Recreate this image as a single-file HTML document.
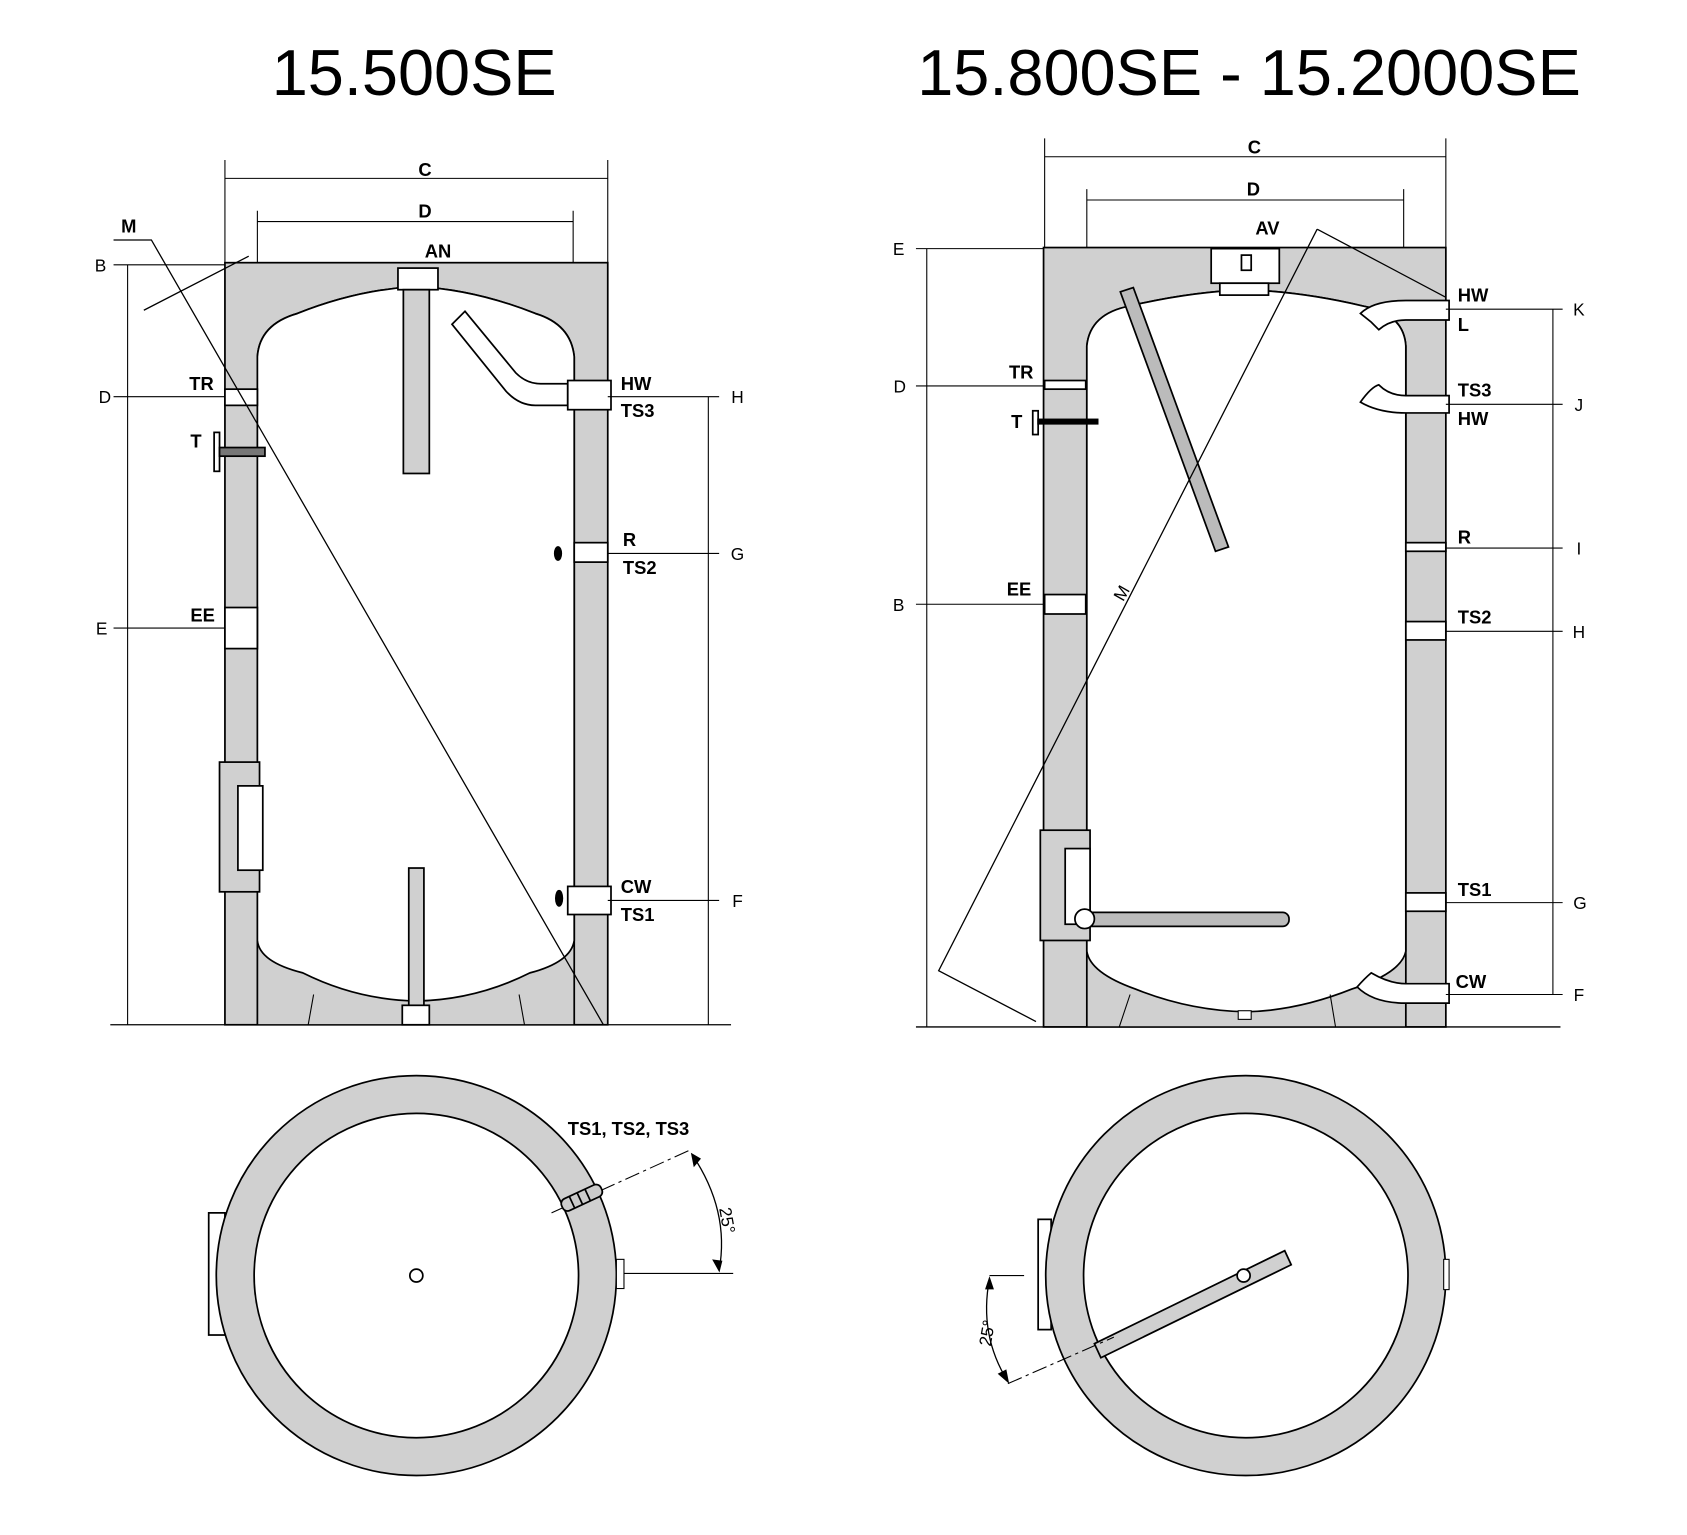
<!DOCTYPE html>
<html><head><style>html,body{margin:0;padding:0;background:#fff}svg{display:block}</style></head>
<body>
<svg width="1687" height="1535" viewBox="0 0 1560 1420" preserveAspectRatio="none" xmlns="http://www.w3.org/2000/svg" font-family="Liberation Sans, sans-serif">
<rect width="1560" height="1420" fill="#fff"/>
<text x="383" y="88" font-size="60" text-anchor="middle">15.500SE</text>
<text x="1155" y="88" font-size="60" text-anchor="middle">15.800SE - 15.2000SE</text>

<g stroke="#000" stroke-width="1.6" fill="none">
<!-- LEFT TANK -->
<rect x="208" y="243" width="354" height="705" fill="#d0d0d0"/>
<path d="M238,948 V330 Q240,300 275,290 Q330,268 385,265 Q440,268 495,290 Q528,300 531,330 V948" fill="#d0d0d0"/>
<path d="M238,330 Q240,300 275,290 Q330,268 385,265 Q440,268 495,290 Q528,300 531,330 V870 Q528,890 490,900 Q440,925 385,926 Q330,925 280,900 Q240,890 238,870 Z" fill="#fff"/>
<path d="M290,920 L285,948 M480,920 L485,948" stroke-width="1"/>
<!-- AN -->
<rect x="368" y="248" width="37" height="20" fill="#fff"/>
<rect x="373" y="268" width="24" height="170" fill="#d0d0d0"/>
<rect x="378" y="803" width="14" height="130" fill="#d0d0d0"/>
<rect x="372" y="930" width="25" height="18" fill="#fff"/>
<!-- HW pipe -->
<path d="M418,300 L430,288 L477,345 Q487,355 500,355 L525,355 L525,375 L495,375 Q480,375 468,362 Z" fill="#fff"/>
<rect x="525" y="352" width="40" height="27" fill="#fff"/>
<rect x="531" y="502" width="31" height="18" fill="#fff"/>
<ellipse cx="516" cy="512" rx="3" ry="6" fill="#000"/>
<rect x="525" y="820" width="40" height="26" fill="#fff"/>
<ellipse cx="517" cy="831" rx="3" ry="7" fill="#000"/>
<!-- left side connections -->
<rect x="208" y="360" width="30" height="15" fill="#fff"/>
<rect x="208" y="562" width="30" height="38" fill="#fff"/>
<rect x="198" y="400" width="5" height="36" fill="#fff"/>
<rect x="203" y="414" width="42" height="8" fill="#777"/>
<rect x="203" y="705" width="37" height="120" fill="#d0d0d0"/>
<rect x="220" y="727" width="23" height="78" fill="#fff"/>
<!-- dims left -->
<path d="M208,148 V243 M562,148 V243 M238,195 V243 M530,195 V243" stroke-width="1"/>
<path d="M208,165 H562 M238,205 H530" stroke-width="1"/>
<path d="M102,948 H676" stroke-width="1.2"/>
<path d="M118,245 V948 M105,245 H208 M105,367 H208 M105,581 H208" stroke-width="1"/>
<path d="M655,367 V948 M562,367 H665 M562,512 H665 M562,833 H665" stroke-width="1"/>
<path d="M105,222 H140 L558,948 M133,287 L230,237" stroke-width="1.2"/>

<!-- RIGHT TANK -->
<rect x="965" y="229" width="372" height="721" fill="#d0d0d0"/>
<path d="M1005,950 V320 Q1008,290 1045,283 Q1100,270 1152,268 Q1205,270 1260,283 Q1298,290 1300,320 V950" fill="#d0d0d0"/>
<path d="M1005,320 Q1008,290 1045,283 Q1100,270 1152,268 Q1205,270 1260,283 Q1298,290 1300,320 V880 Q1296,900 1250,915 Q1200,935 1152,936 Q1100,935 1050,915 Q1008,900 1005,880 Z" fill="#fff"/>
<path d="M1045,920 L1035,950 M1230,920 L1235,950" stroke-width="1"/>
<rect x="1145" y="935" width="12" height="8" fill="#fff" stroke-width="1"/>
<!-- AV fitting -->
<rect x="1120" y="230" width="63" height="32" fill="#fff"/>
<rect x="1128" y="262" width="45" height="11" fill="#fff"/>
<rect x="1148" y="236" width="9" height="14" fill="#fff"/>
<!-- anode rod -->
<path d="M1036,270 L1048,266 L1136,506 L1124,510 Z" fill="#bbb"/>
<!-- pipes right -->
<path d="M1300,278 H1340 V296 H1300 Q1285,296 1275,305 L1268,298 Q1258,290 1258,290 Q1270,278 1300,278 Z" fill="#fff"/>
<path d="M1300,366 H1340 V382 H1300 Q1275,382 1258,372 Q1268,358 1275,356 Q1285,366 1300,366 Z" fill="#fff"/>
<path d="M1300,910 H1340 V928 H1300 Q1270,928 1255,913 Q1262,905 1268,900 Q1285,910 1300,910 Z" fill="#fff"/>
<rect x="1300" y="502" width="37" height="8" fill="#fff"/>
<rect x="1300" y="575" width="37" height="17" fill="#fff"/>
<rect x="1300" y="826" width="37" height="17" fill="#fff"/>
<rect x="966" y="352" width="38" height="8" fill="#fff"/>
<rect x="966" y="550" width="38" height="18" fill="#fff"/>
<rect x="955" y="380" width="5" height="22" fill="#fff"/>
<rect x="960" y="388" width="55" height="4" fill="#000"/>
<!-- heater -->
<rect x="962" y="768" width="46" height="102" fill="#d0d0d0"/>
<rect x="985" y="785" width="23" height="70" fill="#fff"/>
<rect x="1000" y="844" width="192" height="13" rx="6" fill="#bbb"/>
<circle cx="1003" cy="850" r="9" fill="#fff"/>
<!-- dims right -->
<path d="M966,128 V229 M1337,128 V229 M1005,175 V229 M1298,175 V229" stroke-width="1"/>
<path d="M966,145 H1337 M1005,185 H1298" stroke-width="1"/>
<path d="M847,950 H1443" stroke-width="1.2"/>
<path d="M857,230 V950 M847,230 H965 M847,357 H965 M847,559 H965" stroke-width="1"/>
<path d="M1436,286 V920 M1337,286 H1445 M1337,374 H1445 M1337,507 H1445 M1337,584 H1445 M1337,835 H1445 M1337,920 H1445" stroke-width="1"/>
<path d="M1218,212 L868,898 L958,945 M1218,212 L1337,275" stroke-width="1.2"/>

<!-- BOTTOM LEFT -->
<rect x="193" y="1122" width="15" height="113" fill="#fff"/>
<rect x="522" y="1160" width="18" height="35" fill="#fff"/>
<circle cx="385" cy="1180" r="185" fill="#d0d0d0"/>
<circle cx="385" cy="1180" r="150" fill="#fff"/>
<circle cx="385" cy="1180" r="6" fill="#fff"/>
<rect x="570" y="1165" width="7" height="27" fill="#fff" stroke-width="1"/>
<path d="M577,1178 H678" stroke-width="1"/>
<path d="M510,1122 L640,1063" stroke-width="1" stroke-dasharray="14,4,3,4"/>
<path d="M640,1068 Q675,1120 665,1175" stroke-width="1.2"/>
<path d="M640,1068 l2,10 l5,-6 Z M665,1175 l-5,-9 l7,1 Z" fill="#000"/>
<g transform="translate(538,1108) rotate(-25)"><rect x="-20" y="-6" width="40" height="12" rx="5" fill="#ccc"/><path d="M-10,-6 V6 M-2,-6 V6 M6,-6 V6" /></g>

<!-- BOTTOM RIGHT -->
<rect x="960" y="1128" width="12" height="102" fill="#fff"/>
<rect x="1285" y="1162" width="12" height="34" fill="#fff"/>
<circle cx="1152" cy="1180" r="185" fill="#d0d0d0"/>
<circle cx="1152" cy="1180" r="150" fill="#fff"/>
<rect x="1335" y="1165" width="5" height="28" fill="#fff" stroke-width="1"/>
<path d="M1012,1243 L1188,1157 L1194,1170 L1018,1256 Z" fill="#d0d0d0"/>
<circle cx="1150" cy="1180" r="6" fill="#fff"/>
<path d="M915,1180 H947" stroke-width="1"/>
<path d="M932,1280 L1030,1237" stroke-width="1" stroke-dasharray="14,4,3,4"/>
<path d="M915,1183 Q905,1235 932,1278" stroke-width="1.2"/>
<path d="M915,1183 l-3,9 l6,0 Z M932,1278 l-8,-7 l6,-3 Z" fill="#000"/>
</g>

<g font-size="17" font-weight="bold" fill="#000">
<text x="393" y="163" text-anchor="middle">C</text>
<text x="393" y="201" text-anchor="middle">D</text>
<text x="405" y="238" text-anchor="middle">AN</text>
<text x="112" y="215">M</text>
<text x="175" y="361">TR</text>
<text x="176" y="414">T</text>
<text x="176" y="575">EE</text>
<text x="574" y="361">HW</text>
<text x="574" y="386">TS3</text>
<text x="576" y="505">R</text>
<text x="576" y="531">TS2</text>
<text x="574" y="826">CW</text>
<text x="574" y="852">TS1</text>
<text x="1160" y="142" text-anchor="middle">C</text>
<text x="1159" y="181" text-anchor="middle">D</text>
<text x="1172" y="217" text-anchor="middle">AV</text>
<text x="933" y="350">TR</text>
<text x="935" y="396">T</text>
<text x="931" y="551">EE</text>
<text x="1348" y="279">HW</text>
<text x="1348" y="306">L</text>
<text x="1348" y="367">TS3</text>
<text x="1348" y="393">HW</text>
<text x="1348" y="503">R</text>
<text x="1348" y="577">TS2</text>
<text x="1348" y="829">TS1</text>
<text x="1346" y="914">CW</text>
<text x="525" y="1050">TS1, TS2, TS3</text>
<text x="1035" y="565" transform="rotate(-60 1030 558)" font-weight="normal" font-size="16">M</text>
</g>
<g font-size="16" fill="#000">
<text x="93" y="251" text-anchor="middle">B</text>
<text x="97" y="373" text-anchor="middle">D</text>
<text x="94" y="587" text-anchor="middle">E</text>
<text x="682" y="373" text-anchor="middle">H</text>
<text x="682" y="518" text-anchor="middle">G</text>
<text x="682" y="839" text-anchor="middle">F</text>
<text x="831" y="236" text-anchor="middle">E</text>
<text x="832" y="363" text-anchor="middle">D</text>
<text x="831" y="565" text-anchor="middle">B</text>
<text x="1460" y="292" text-anchor="middle">K</text>
<text x="1460" y="380" text-anchor="middle">J</text>
<text x="1460" y="513" text-anchor="middle">I</text>
<text x="1460" y="590" text-anchor="middle">H</text>
<text x="1461" y="841" text-anchor="middle">G</text>
<text x="1460" y="926" text-anchor="middle">F</text>
<text x="0" y="0" transform="translate(665,1118) rotate(80)">25°</text>
<text x="0" y="0" transform="translate(916,1246) rotate(-80)">25°</text>
</g>
</svg>
</body></html>
